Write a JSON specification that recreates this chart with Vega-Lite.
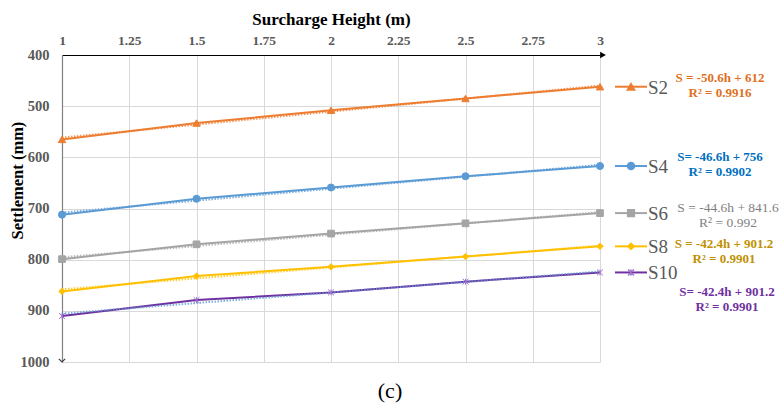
{
  "$schema": "https://vega.github.io/schema/vega-lite/v6.json",
  "width": 538,
  "height": 307,
  "autosize": {"type": "none"},
  "padding": {"left": 62, "top": 55, "right": 180, "bottom": 48},
  "background": "white",
  "config": {"font": "Liberation Serif", "view": {"stroke": null}, "text": {"lineBreak": "\n"}},
  "datasets": {
    "settle": [
      {"series": "S2", "h": 1, "s": 565}, {"series": "S2", "h": 1.5, "s": 533}, {"series": "S2", "h": 2, "s": 508}, {"series": "S2", "h": 2.5, "s": 485}, {"series": "S2", "h": 3, "s": 462},
      {"series": "S4", "h": 1, "s": 712}, {"series": "S4", "h": 1.5, "s": 681}, {"series": "S4", "h": 2, "s": 659}, {"series": "S4", "h": 2.5, "s": 637}, {"series": "S4", "h": 3, "s": 617},
      {"series": "S6", "h": 1, "s": 799}, {"series": "S6", "h": 1.5, "s": 770}, {"series": "S6", "h": 2, "s": 749}, {"series": "S6", "h": 2.5, "s": 729}, {"series": "S6", "h": 3, "s": 709},
      {"series": "S8", "h": 1, "s": 862}, {"series": "S8", "h": 1.5, "s": 832}, {"series": "S8", "h": 2, "s": 814}, {"series": "S8", "h": 2.5, "s": 794}, {"series": "S8", "h": 3, "s": 774},
      {"series": "S10", "h": 1, "s": 910}, {"series": "S10", "h": 1.5, "s": 879}, {"series": "S10", "h": 2, "s": 864}, {"series": "S10", "h": 2.5, "s": 843}, {"series": "S10", "h": 3, "s": 825}
    ],
    "eqs": [
      {"series": "S2", "eq": "S = -50.6h + 612\nR² = 0.9916"},
      {"series": "S4", "eq": "S= -46.6h + 756\nR² = 0.9902"},
      {"series": "S6", "eq": "S = -44.6h + 841.6\nR² = 0.992"},
      {"series": "S8", "eq": "S = -42.4h + 901.2\nR² = 0.9901"},
      {"series": "S10", "eq": "S= -42.4h + 901.2\nR² = 0.9901"}
    ]
  },
  "title": {"text": "(c)", "orient": "bottom", "anchor": "middle", "frame": "group", "dx": 59, "offset": 12, "fontSize": 22, "fontWeight": "normal", "font": "Liberation Serif", "color": "#000000"},
  "resolve": {"scale": {"color": "independent"}},
  "layer": [
    {
      "data": {"name": "settle"},
      "mark": {"type": "line", "strokeWidth": 2},
      "encoding": {
        "x": {"field": "h", "type": "quantitative", "scale": {"domain": [1, 3], "nice": false, "zero": false},
          "axis": {"orient": "top", "values": [1, 1.25, 1.5, 1.75, 2, 2.25, 2.5, 2.75, 3], "format": ".3~g", "title": "Surcharge Height (m)", "titleFont": "Liberation Serif", "titleFontSize": 17, "titleFontWeight": "bold", "titleColor": "#000000", "titlePadding": 5, "labelFont": "Liberation Serif", "labelFontSize": 13.5, "labelFontWeight": "bold", "labelColor": "#595959", "labelPadding": 8, "labelFlush": false, "ticks": false, "domainColor": "#000000", "domainWidth": 1.2, "gridColor": "#d9d9d9", "gridWidth": 1}},
        "y": {"field": "s", "type": "quantitative", "scale": {"domain": [400, 1000], "reverse": true, "nice": false, "zero": false},
          "axis": {"values": [400, 500, 600, 700, 800, 900, 1000], "format": "d", "title": "Settlement (mm)", "titleFont": "Liberation Serif", "titleFontSize": 16.5, "titleFontWeight": "bold", "titleColor": "#000000", "titleX": -37, "titleY": 125, "labelFont": "Liberation Serif", "labelFontSize": 14.5, "labelFontWeight": "bold", "labelColor": "#595959", "labelPadding": 13, "ticks": false, "domainColor": "#808080", "domainWidth": 1.2, "gridColor": "#d9d9d9", "gridWidth": 1}},
        "color": {"field": "series", "type": "nominal", "legend": null, "scale": {"domain": ["S2", "S4", "S6", "S8", "S10"], "range": ["#ED7D31", "#5B9BD5", "#A5A5A5", "#FFC000", "#7030A0"]}},
        "detail": {"field": "series"}
      }
    },
    {
      "data": {"name": "settle"},
      "transform": [{"regression": "s", "on": "h", "groupby": ["series"], "extent": [1, 3]}],
      "mark": {"type": "line", "strokeWidth": 2, "strokeDash": [1.5, 1.5], "opacity": 0.8},
      "encoding": {
        "x": {"field": "h", "type": "quantitative"},
        "y": {"field": "s", "type": "quantitative"},
        "color": {"field": "series", "type": "nominal", "legend": null, "scale": {"domain": ["S2", "S4", "S6", "S8", "S10"], "range": ["#ED7D31", "#5B9BD5", "#A5A5A5", "#FFC000", "#5B9BD5"]}}
      }
    },
    {
      "data": {"name": "settle"},
      "mark": {"type": "point", "filled": true, "strokeWidth": 1, "opacity": 1},
      "encoding": {
        "x": {"field": "h", "type": "quantitative"},
        "y": {"field": "s", "type": "quantitative"},
        "color": {"field": "series", "type": "nominal", "legend": null, "scale": {"domain": ["S2", "S4", "S6", "S8", "S10"], "range": ["#ED7D31", "#5B9BD5", "#A5A5A5", "#FFC000", "#A070D0"]}},
        "stroke": {"field": "series", "type": "nominal", "legend": null, "scale": {"domain": ["S2", "S4", "S6", "S8", "S10"], "range": ["#ED7D31", "#5B9BD5", "#A5A5A5", "#FFC000", "#A070D0"]}},
        "shape": {"field": "series", "type": "nominal", "legend": null, "scale": {"domain": ["S2", "S4", "S6", "S8", "S10"], "range": ["triangle-up", "circle", "square", "diamond", "M-1,-1L1,1M-1,1L1,-1M0,-1L0,1"]}},
        "size": {"field": "series", "type": "nominal", "legend": null, "scale": {"domain": ["S2", "S4", "S6", "S8", "S10"], "range": [55, 35, 55, 50, 100]}}
      }
    },
    {
      "data": {"name": "settle"},
      "transform": [{"filter": "datum.h == 3"}],
      "mark": {"type": "point", "filled": false, "shape": "M-1,0L1,0", "size": 1024, "strokeWidth": 2, "xOffset": 31, "opacity": 1},
      "encoding": {
        "x": {"field": "h", "type": "quantitative"},
        "y": {"field": "s", "type": "quantitative"},
        "color": {"field": "series", "type": "nominal", "legend": null, "scale": {"domain": ["S2", "S4", "S6", "S8", "S10"], "range": ["#ED7D31", "#5B9BD5", "#A5A5A5", "#FFC000", "#7030A0"]}}
      }
    },
    {
      "data": {"name": "settle"},
      "transform": [{"filter": "datum.h == 3"}],
      "mark": {"type": "point", "filled": true, "strokeWidth": 1.5, "xOffset": 31, "opacity": 1},
      "encoding": {
        "x": {"field": "h", "type": "quantitative"},
        "y": {"field": "s", "type": "quantitative"},
        "color": {"field": "series", "type": "nominal", "legend": null, "scale": {"domain": ["S2", "S4", "S6", "S8", "S10"], "range": ["#ED7D31", "#5B9BD5", "#A5A5A5", "#FFC000", "#7030A0"]}},
        "stroke": {"field": "series", "type": "nominal", "legend": null, "scale": {"domain": ["S2", "S4", "S6", "S8", "S10"], "range": ["#ED7D31", "#5B9BD5", "#A5A5A5", "#FFC000", "#7030A0"]}},
        "shape": {"field": "series", "type": "nominal", "legend": null, "scale": {"domain": ["S2", "S4", "S6", "S8", "S10"], "range": ["triangle-up", "circle", "square", "diamond", "M-1,-1L1,1M-1,1L1,-1M0,-1L0,1"]}},
        "size": {"field": "series", "type": "nominal", "legend": null, "scale": {"domain": ["S2", "S4", "S6", "S8", "S10"], "range": [90, 45, 70, 60, 130]}}
      }
    },
    {
      "data": {"name": "settle"},
      "transform": [{"filter": "datum.h == 3"}],
      "mark": {"type": "text", "align": "left", "baseline": "middle", "dx": 48, "dy": 1, "fontSize": 19, "color": "#595959", "font": "Liberation Serif"},
      "encoding": {
        "x": {"field": "h", "type": "quantitative"},
        "y": {"field": "s", "type": "quantitative"},
        "text": {"field": "series", "type": "nominal"}
      }
    },
    {
      "data": {"name": "settle"},
      "transform": [
        {"filter": "datum.h == 3 && (datum.series == 'S2' || datum.series == 'S4')"},
        {"lookup": "series", "from": {"data": {"name": "eqs"}, "key": "series", "fields": ["eq"]}}
      ],
      "mark": {"type": "text", "align": "center", "baseline": "middle", "dx": 120, "dy": -9, "fontSize": 13, "fontWeight": "bold", "lineHeight": 15, "font": "Liberation Serif"},
      "encoding": {
        "x": {"field": "h", "type": "quantitative"},
        "y": {"field": "s", "type": "quantitative"},
        "text": {"field": "eq", "type": "nominal"},
        "color": {"field": "series", "type": "nominal", "legend": null, "scale": {"domain": ["S2", "S4", "S6", "S8", "S10"], "range": ["#E07020", "#0070C0", "#7F7F7F", "#BF9000", "#7030A0"]}}
      }
    },
    {
      "data": {"name": "settle"},
      "transform": [
        {"filter": "datum.h == 3 && datum.series == 'S6'"},
        {"lookup": "series", "from": {"data": {"name": "eqs"}, "key": "series", "fields": ["eq"]}}
      ],
      "mark": {"type": "text", "align": "center", "baseline": "middle", "dx": 128, "dy": -5, "fontSize": 13.5, "fontWeight": "normal", "lineHeight": 15, "font": "Liberation Serif"},
      "encoding": {
        "x": {"field": "h", "type": "quantitative"},
        "y": {"field": "s", "type": "quantitative"},
        "text": {"field": "eq", "type": "nominal"},
        "color": {"field": "series", "type": "nominal", "legend": null, "scale": {"domain": ["S2", "S4", "S6", "S8", "S10"], "range": ["#E07020", "#0070C0", "#7F7F7F", "#BF9000", "#7030A0"]}}
      }
    },
    {
      "data": {"name": "settle"},
      "transform": [
        {"filter": "datum.h == 3 && datum.series == 'S8'"},
        {"lookup": "series", "from": {"data": {"name": "eqs"}, "key": "series", "fields": ["eq"]}}
      ],
      "mark": {"type": "text", "align": "center", "baseline": "middle", "dx": 124, "dy": -2, "fontSize": 13, "fontWeight": "bold", "lineHeight": 15, "font": "Liberation Serif"},
      "encoding": {
        "x": {"field": "h", "type": "quantitative"},
        "y": {"field": "s", "type": "quantitative"},
        "text": {"field": "eq", "type": "nominal"},
        "color": {"field": "series", "type": "nominal", "legend": null, "scale": {"domain": ["S2", "S4", "S6", "S8", "S10"], "range": ["#E07020", "#0070C0", "#7F7F7F", "#BF9000", "#7030A0"]}}
      }
    },
    {
      "data": {"name": "settle"},
      "transform": [
        {"filter": "datum.h == 3 && datum.series == 'S10'"},
        {"lookup": "series", "from": {"data": {"name": "eqs"}, "key": "series", "fields": ["eq"]}}
      ],
      "mark": {"type": "text", "align": "center", "baseline": "middle", "dx": 127, "dy": 20, "fontSize": 13, "fontWeight": "bold", "lineHeight": 15, "font": "Liberation Serif"},
      "encoding": {
        "x": {"field": "h", "type": "quantitative"},
        "y": {"field": "s", "type": "quantitative"},
        "text": {"field": "eq", "type": "nominal"},
        "color": {"field": "series", "type": "nominal", "legend": null, "scale": {"domain": ["S2", "S4", "S6", "S8", "S10"], "range": ["#E07020", "#0070C0", "#7F7F7F", "#BF9000", "#7030A0"]}}
      }
    },
    {
      "data": {"values": [{}]},
      "mark": {"type": "point", "shape": "triangle-right", "filled": true, "color": "#000000", "size": 45, "xOffset": 3, "opacity": 1},
      "encoding": {
        "x": {"datum": 3, "type": "quantitative"},
        "y": {"datum": 400, "type": "quantitative"}
      }
    },
    {
      "data": {"values": [{}]},
      "mark": {"type": "point", "shape": "M-1,-1L0,0L1,-1", "filled": false, "color": "#404040", "size": 40, "strokeWidth": 1.2, "opacity": 1},
      "encoding": {
        "x": {"datum": 1, "type": "quantitative"},
        "y": {"datum": 1000, "type": "quantitative"}
      }
    }
  ]
}
